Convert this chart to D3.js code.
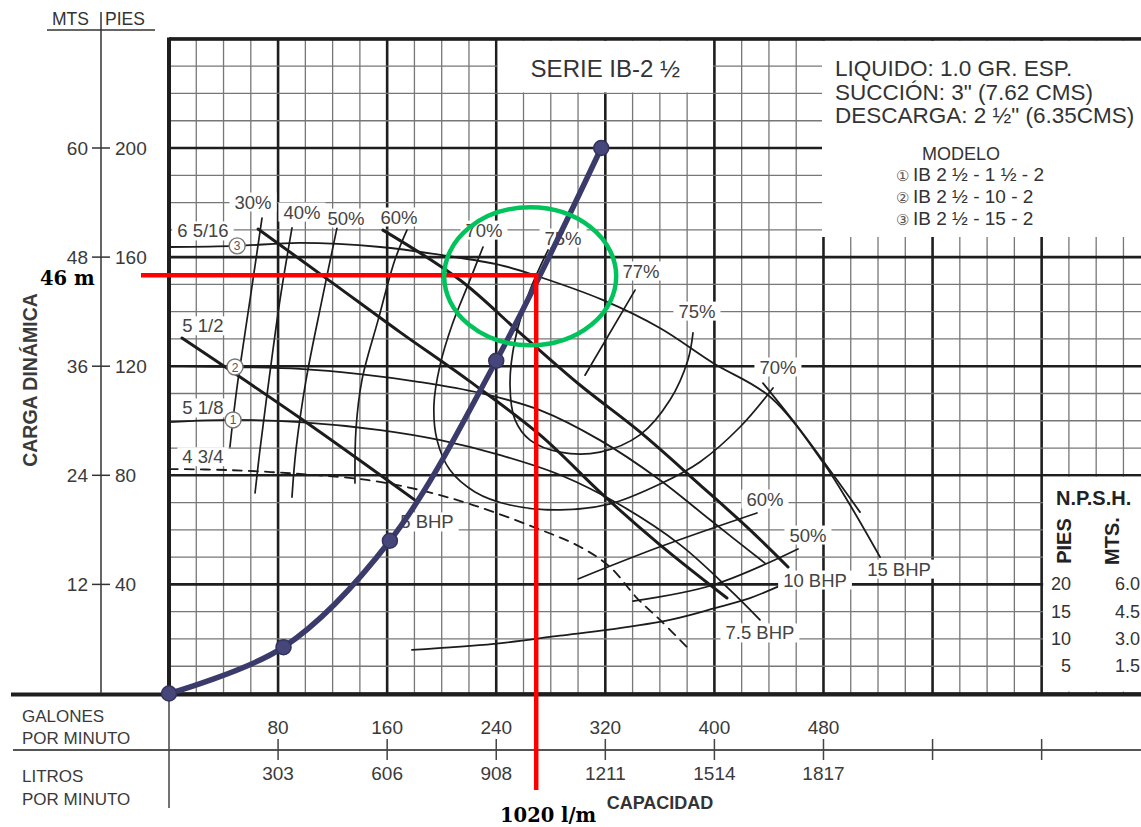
<!DOCTYPE html>
<html><head><meta charset="utf-8">
<script src="https://cdn.jsdelivr.net/npm/d3@7"></script>
<style>
body{margin:0;background:#fff}
svg{display:block}
text{font-family:"Liberation Sans",Arial,sans-serif;fill:#3a3a3a}
text.serif{font-family:"DejaVu Serif","Liberation Serif",serif;fill:#000}
</style></head><body>
<svg id="chart" width="1141" height="827"></svg>
<script>
// ---- axis ticks ----
const gpmTicks = [80,160,240,320,400,480];
const lpmTicks = [303,606,908,1211,1514,1817];
const blankTicks = [560,640];
const headFtTicks = [40,80,120,160,200];
const headMTicks = [12,24,36,48,60];
const npshPies = [20,15,10,5];
const npshMts = ["6.0","4.5","3.0","1.5"];

// ---- impeller diameter curves: [gpm, ft] ----
const imp6516 = [[0,163.7],[50,164.1],[96,165.2],[155,163.7],[199,160.8],[243,157.1],[272,152.7],[318,144.3],[360,134],[399,121.2],[441,108.7],[480,84.5],[499.5,69.1],[521.5,50]];
const imp512  = [[0,120.1],[48.4,119.7],[96,119],[140,117.1],[184,114.2],[228,110.2],[272,103.9],[316,92.9],[360,78.3],[397,63.6],[437,47.8]];
const imp518  = [[0,99.5],[47,100.3],[96,99.5],[155,96.6],[199,92.9],[243,87.4],[287,80.1],[331,69.1],[375,54.5],[411.4,38],[433.4,27]];
const imp434  = [[0,82.3],[44.7,81.9],[96.1,80.5],[145.2,78.3],[184.1,74.6],[223,69.1],[267,61.1],[301.4,53.8],[323.4,46.4],[343.2,35],[360.1,27],[379.9,17]];

// ---- brake horsepower lines ----
const bhp5  = [[9.5,130.3],[96.1,101],[180.4,70.9]];
const bhp75 = [[65.3,170.3],[118.1,151.2],[169.4,132.5],[219.3,114.9],[272.1,94.8],[318.3,72.8],[360.1,54.5],[409.2,35]];
const bhp10 = [[156.9,169.9],[213.4,151.6],[257.4,132.2],[301.4,113.1],[345.4,95.9],[389.4,76.5],[426.1,60],[454,46.4]];
const bhp15 = [[435.6,113.8],[463,96.6],[506.8,66.5]];

// ---- efficiency contours ----
const eff30 = [[68.2,174.3],[59.4,144.3],[50.6,114.9],[46.9,100.3],[44.7,90.4]];
const eff40 = [[90.2,170.7],[81.4,144.3],[73.3,114.9],[66.7,89.3],[63.1,73.5]];
const eff50 = [[123.2,170.7],[112.2,144.3],[100.5,114.9],[93.1,89.3],[90.2,72]];
const eff60 = [[174.5,169.9],[165.7,159],[153.3,136.8],[141.5,114.9],[137.1,96.6],[136.4,77.2]];
const eff70 = [[230.3,163.7],[219.3,149.8],[207.6,135.1],[198.8,120.4],[194.3,105.8],[196.6,92.9],[206.1,81.9],[224.4,73.9],[250.1,69.1],[286.8,67.3],[323.4,69.5],[360.1,76.8],[389.4,84.9],[418.8,97.7],[443,112]];
const eff75 = [[278,162.6],[264.8,147.9],[253.8,129.6],[250.1,113.1],[253.8,100.3],[264.8,92.9],[286.8,88.5],[316.1,88.5],[345.4,94.8],[367.4,107.6],[380.6,122.3],[384.3,132.2]];
const eff77 = [[341.8,147.9],[305.1,116.7]];
const eff60r = [[300,42],[360.1,53.8],[431.2,66.2]];
const eff50r = [[340.3,33.9],[399,39.8],[461.3,53]];

// ---- required NPSH (ft) ----
const npshReq = [[178.2,8],[238.4,9.1],[286.8,10.6],[322.7,11.7],[367.4,13.5],[401.1,15.7],[426.1,17.5],[449.6,19.9]];

// ---- system curve ----
const systemCurve = [[0,0],[84,17],[162,56],[240,122],[317,200]];

// ---- duty point ----
const dutyHeadM = 46;
const dutyFlowLpm = 1020;

// ---- curve labels: [text, gpm, ft] ----
const effLabels = [["30%",61.6,180.2],["40%",97.5,176.5],["50%",129.8,174.3],["60%",168.7,174.7],["70%",231,169.9],["75%",289,167],["77%",346.2,154.9],["75%",387.2,140.2],["70%",446.6,119.7],["60%",437.1,71.3],["50%",468.6,58.1]];
const bhpLabels = [["5 BHP",189.2,62.9],["7.5 BHP",433.4,22.2],["10 BHP",473.8,41.6],["15 BHP",535.4,45.6]];
const impLabels = [["6 5/16",24.9,169.6],["5 1/2",24.9,134.8],["5 1/8",24.9,104.7],["4 3/4",24.9,86.8]];
const modelMarks = [["3",50,164.1],["2",48.4,119.7],["1",47,100.3]];

const infoLines = ["LIQUIDO: 1.0 GR. ESP.","SUCCIÓN: 3\" (7.62 CMS)","DESCARGA: 2 ½\" (6.35CMS)"];
const modelLines = ["IB 2 ½ - 1 ½ - 2","IB 2 ½ - 10 - 2","IB 2 ½ - 15 - 2"];
const modelNums = ["①","②","③"];

// ================= drawing =================
const svg = d3.select("#chart");
const W = 1141, H = 827;
const x = d3.scaleLinear().domain([0,720]).range([169,169+720*1.3635]);
const y = d3.scaleLinear().domain([0,240]).range([693.5,693.5-240*2.7275]);
const yN = d3.scaleLinear().domain([0,120]).range([693.5,693.5-240*2.7275]);
const gpmFromLpm = l => l*80/303;
const ftFromM = m => m/0.3;

const plotL = x(0), plotT = y(240), plotB = y(0), plotR = W;

// grid
const grid = svg.append("g");
const vLines = d3.range(0,721,20);
const hLines = d3.range(0,241,10);
grid.selectAll(".gv").data(vLines).join("line")
  .attr("x1",d=>x(d)).attr("x2",d=>x(d)).attr("y1",plotT).attr("y2",plotB)
  .attr("stroke",d=>d%80===0?"#1e1e1e":"#777")
  .attr("stroke-width",d=>d%80===0?2.6:1.3);
grid.selectAll(".gh").data(hLines).join("line")
  .attr("x1",plotL).attr("x2",plotR).attr("y1",d=>y(d)).attr("y2",d=>y(d))
  .attr("stroke",d=>d%40===0?"#1e1e1e":"#777")
  .attr("stroke-width",d=>d%40===0?2.6:1.3);
// frame
grid.append("line").attr("x1",plotL).attr("x2",plotR).attr("y1",plotT).attr("y2",plotT).attr("stroke","#1e1e1e").attr("stroke-width",3.5);
grid.append("line").attr("x1",plotL).attr("x2",plotL).attr("y1",plotT-1.5).attr("y2",plotB).attr("stroke","#1e1e1e").attr("stroke-width",4);
grid.append("line").attr("x1",11).attr("x2",plotR).attr("y1",plotB+1).attr("y2",plotB+1).attr("stroke","#1e1e1e").attr("stroke-width",4);

// white panels
svg.append("rect").attr("x",x(240)+1.5).attr("y",plotT+2).attr("width",x(400)-x(240)-3).attr("height",y(220)-plotT-3).attr("fill","#fff");
svg.append("rect").attr("x",822).attr("y",plotT+2).attr("width",W-822).attr("height",237-plotT-2).attr("fill","#fff");
svg.append("rect").attr("x",x(640)+1.5).attr("y",y(80)+1.5).attr("width",W-x(640)).attr("height",plotB-y(80)-3.5).attr("fill","#fff");

// curves
const line = d3.line().x(d=>x(d[0])).y(d=>y(d[1])).curve(d3.curveCatmullRom.alpha(0.5));
const curves = svg.append("g").attr("fill","none").attr("stroke","#1c1c1c").attr("stroke-linecap","round");
[imp6516,imp512,imp518].forEach(c=>curves.append("path").attr("d",line(c)).attr("stroke-width",1.8));
curves.append("path").attr("d",line(imp434)).attr("stroke-width",1.8).attr("stroke-dasharray","9,7");
[eff30,eff40,eff50,eff60,eff70,eff75,eff77,eff60r,eff50r].forEach(c=>curves.append("path").attr("d",line(c)).attr("stroke-width",1.7));
[bhp5,bhp75,bhp10].forEach(c=>curves.append("path").attr("d",line(c)).attr("stroke-width",3));
curves.append("path").attr("d",line(bhp15)).attr("stroke-width",1.8);
const lineN = d3.line().x(d=>x(d[0])).y(d=>yN(d[1])).curve(d3.curveCatmullRom.alpha(0.5));
curves.append("path").attr("d",lineN(npshReq)).attr("stroke-width",1.8);

// labels with white backing
function tag(g, str, px, py, size){
  const gg = g.append("g");
  const t = gg.append("text").attr("x",px).attr("y",py).attr("text-anchor","middle")
    .attr("dominant-baseline","central").attr("font-size",size).style("fill","#444").text(str);
  const b = t.node().getBBox();
  gg.insert("rect","text").attr("x",b.x-5).attr("y",b.y+1).attr("width",b.width+10).attr("height",b.height-2).attr("fill","#fff");
}
const lab = svg.append("g");
effLabels.forEach(d=>tag(lab,d[0],x(d[1]),y(d[2]),18.5));
bhpLabels.forEach(d=>tag(lab,d[0],x(d[1]),y(d[2]),18.5));
impLabels.forEach(d=>tag(lab,d[0],x(d[1]),y(d[2]),18.5));

// model markers on impeller curves
const mk = svg.append("g");
modelMarks.forEach(d=>{
  mk.append("circle").attr("cx",x(d[1])).attr("cy",y(d[2])).attr("r",8).attr("fill","#fff").attr("stroke","#777").attr("stroke-width",1.4);
  mk.append("text").attr("x",x(d[1])).attr("y",y(d[2])+0.5).attr("text-anchor","middle").attr("dominant-baseline","central")
    .attr("font-size",12).style("fill","#555").text(d[0]);
});

// title box text
svg.append("text").attr("x",(x(240)+x(400))/2).attr("y",77).attr("text-anchor","middle").attr("font-size",24).style("fill","#333").text("SERIE IB-2 ½");

// info box
infoLines.forEach((s,i)=>svg.append("text").attr("x",835).attr("y",76+i*23.5).attr("font-size",22.5).style("fill","#333").text(s));
svg.append("text").attr("x",961).attr("y",160).attr("text-anchor","middle").attr("font-size",18).style("fill","#333").text("MODELO");
modelLines.forEach((s,i)=>{
  svg.append("text").attr("x",896).attr("y",181+i*22).attr("font-size",15).style("fill","#555").text(modelNums[i]);
  svg.append("text").attr("x",913).attr("y",181+i*22).attr("font-size",19).style("fill","#333").text(s);
});

// NPSH panel
svg.append("text").attr("x",1056).attr("y",505).attr("font-size",20).attr("font-weight","bold").style("fill","#222").text("N.P.S.H.");
svg.append("text").attr("transform","translate(1064,541) rotate(-90)").attr("text-anchor","middle").attr("dominant-baseline","central").attr("font-size",20).attr("font-weight","bold").style("fill","#222").text("PIES");
svg.append("text").attr("transform","translate(1112,541) rotate(-90)").attr("text-anchor","middle").attr("dominant-baseline","central").attr("font-size",20).attr("font-weight","bold").style("fill","#222").text("MTS.");
npshPies.forEach((p,i)=>{
  svg.append("text").attr("x",1071).attr("y",yN(p)).attr("dominant-baseline","central").attr("text-anchor","end").attr("font-size",18).style("fill","#333").text(p);
  svg.append("text").attr("x",1115).attr("y",yN(p)).attr("dominant-baseline","central").attr("font-size",18).style("fill","#333").text(npshMts[i]);
});

// left axis (metres | feet)
const axX = 101;
svg.append("line").attr("x1",axX).attr("x2",axX).attr("y1",12).attr("y2",plotB).attr("stroke","#333").attr("stroke-width",1.5);
svg.append("line").attr("x1",47).attr("x2",155).attr("y1",30).attr("y2",30).attr("stroke","#333").attr("stroke-width",1.5);
svg.append("text").attr("x",89).attr("y",25).attr("text-anchor","end").attr("font-size",17.5).style("fill","#333").text("MTS");
svg.append("text").attr("x",105).attr("y",25).attr("font-size",17.5).style("fill","#333").text("PIES");
headFtTicks.forEach((f,i)=>{
  svg.append("line").attr("x1",axX-9).attr("x2",axX+9).attr("y1",y(f)).attr("y2",y(f)).attr("stroke","#333").attr("stroke-width",1.5);
  svg.append("text").attr("x",88).attr("y",y(f)).attr("text-anchor","end").attr("dominant-baseline","central").attr("font-size",19).text(headMTicks[i]);
  svg.append("text").attr("x",115).attr("y",y(f)).attr("dominant-baseline","central").attr("font-size",19).text(f);
});
svg.append("text").attr("transform","translate(30,380) rotate(-90)").attr("text-anchor","middle").attr("dominant-baseline","central")
  .attr("font-size",19.5).attr("font-weight","bold").style("fill","#3a3a3a").text("CARGA DINÁMICA");

// bottom capacity axes
svg.append("line").attr("x1",13).attr("x2",W).attr("y1",750).attr("y2",750).attr("stroke","#555").attr("stroke-width",2.2);
svg.append("line").attr("x1",x(0)).attr("x2",x(0)).attr("y1",plotB).attr("y2",808).attr("stroke","#444").attr("stroke-width",1.5);
gpmTicks.concat(blankTicks).forEach(g=>svg.append("line").attr("x1",x(g)).attr("x2",x(g)).attr("y1",739).attr("y2",760).attr("stroke","#444").attr("stroke-width",1.5));
gpmTicks.forEach(g=>svg.append("text").attr("x",x(g)).attr("y",727).attr("text-anchor","middle").attr("dominant-baseline","central").attr("font-size",19).text(g));
lpmTicks.forEach((l,i)=>svg.append("text").attr("x",x(gpmTicks[i])).attr("y",773).attr("text-anchor","middle").attr("dominant-baseline","central").attr("font-size",19).text(l));
[["GALONES",716],["POR MINUTO",738],["LITROS",776],["POR MINUTO",799]].forEach(d=>
  svg.append("text").attr("x",22).attr("y",d[1]).attr("dominant-baseline","central").attr("font-size",17).text(d[0]));
svg.append("text").attr("x",660).attr("y",803).attr("text-anchor","middle").attr("dominant-baseline","central").attr("font-size",18).attr("font-weight","bold").style("fill","#333").text("CAPACIDAD");

// system curve
const sys = svg.append("g");
sys.append("path").attr("d",d3.line().x(d=>x(d[0])).y(d=>y(d[1])).curve(d3.curveCatmullRom.alpha(0.5))(systemCurve))
  .attr("fill","none").attr("stroke","#3b3b6b").attr("stroke-width",5.5).attr("stroke-linecap","round");
sys.selectAll("circle").data(systemCurve).join("circle").attr("cx",d=>x(d[0])).attr("cy",d=>y(d[1])).attr("r",7.5)
  .attr("fill","#46467a").attr("stroke","#33335f").attr("stroke-width",1.5);

// duty point guide lines
const qD = gpmFromLpm(dutyFlowLpm), hD = ftFromM(dutyHeadM);
svg.append("line").attr("x1",141).attr("x2",x(qD)+2).attr("y1",y(hD)).attr("y2",y(hD)).attr("stroke","#ff0000").attr("stroke-width",4.5);
svg.append("line").attr("x1",x(qD)).attr("x2",x(qD)).attr("y1",y(hD)-2).attr("y2",790).attr("stroke","#ff0000").attr("stroke-width",4.5);
svg.append("ellipse").attr("cx",x(qD)-6).attr("cy",y(hD)+1).attr("rx",86).attr("ry",69)
  .attr("fill","none").attr("stroke","#00c35c").attr("stroke-width",4.5);
svg.append("text").attr("class","serif").attr("x",40).attr("y",285).attr("font-weight","bold").attr("font-size",19.5).text(dutyHeadM+" m");
svg.append("text").attr("class","serif").attr("x",500).attr("y",822).attr("font-weight","bold").attr("font-size",19.5).text(dutyFlowLpm+" l/m");
</script>
</body></html>
